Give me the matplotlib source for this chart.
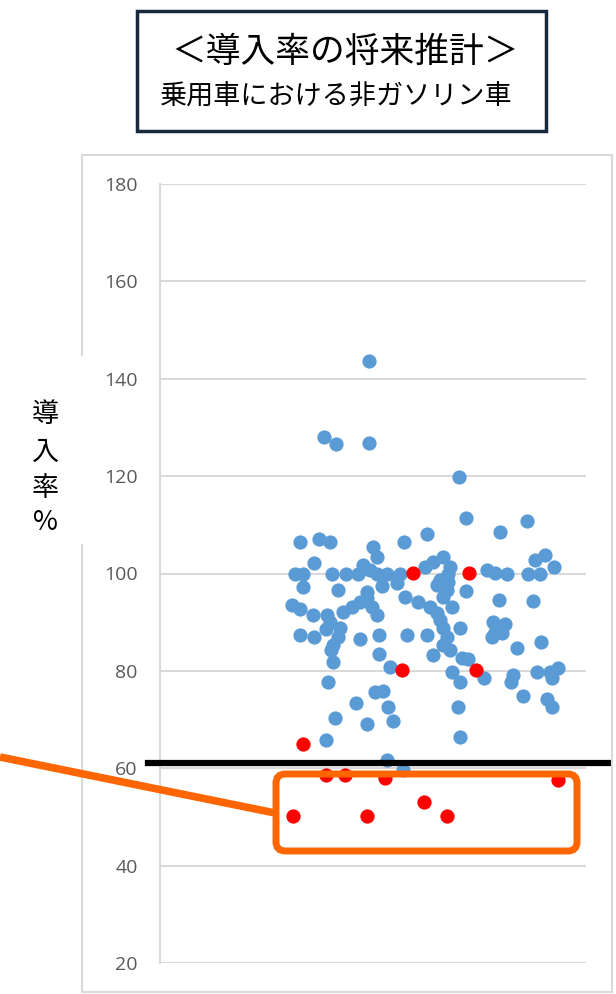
import matplotlib
matplotlib.use("Agg")
import matplotlib.pyplot as plt
from matplotlib.patches import FancyBboxPatch, Rectangle
from matplotlib.lines import Line2D
from matplotlib.transforms import blended_transform_factory

plt.rcParams['font.family'] = ['Noto Sans CJK JP', 'DejaVu Sans']

# ---- data (x = jitter position, y = 導入率 %) ----
blue_x = [209, 164, 176, 209, 299, 306, 367, 340, 267, 140, 159, 170, 244, 213, 217,
          203, 154, 283, 273, 385, 375, 394, 265, 290,
          135, 143, 172, 186, 198, 210, 217, 227, 240, 288, 327, 335, 347, 368, 380,
          143, 178, 207, 222, 237, 245, 280, 288, 277, 283, 287, 306, 339, 373,
          132, 140, 153, 167, 170, 166, 183, 192, 200, 207, 212, 217, 258, 270, 277,
          280, 283, 287, 283, 300, 333, 345, 335, 342, 332, 140, 154, 180, 178, 173,
          171, 173, 200, 219, 247, 267, 219, 273, 290, 302, 308, 292, 300, 324, 357,
          381, 353, 351, 377, 390, 398, 392, 363, 387, 392, 298, 230, 168, 215, 223,
          196, 228, 233, 175, 207, 166, 300, 227, 243, 292]
blue_y = [143.6, 128.0, 126.6, 126.8, 119.8, 111.4, 110.8, 108.5, 108.1, 106.4, 107.1,
          106.4, 106.4, 105.4, 103.4, 101.7, 102.1, 103.4, 102.3, 103.8, 102.8, 101.3,
          101.3, 101.3,
          99.9, 99.9, 99.9, 99.9, 99.9, 100.7, 99.9, 99.9, 99.9, 99.9, 100.7, 100.1,
          99.9, 99.9, 99.9,
          97.2, 96.6, 96.2, 97.4, 98.0, 95.2, 98.6, 98.2, 97.6, 95.2, 96.6, 96.4,
          94.5, 94.3,
          93.5, 92.7, 91.5, 91.5, 90.0, 88.6, 92.1, 93.1, 94.1, 94.9, 93.1, 91.5,
          94.1, 93.1, 91.9, 90.4, 88.8, 86.9, 85.3, 88.8, 90.0, 89.6, 88.0, 87.8,
          86.9, 87.4, 86.9, 88.8, 86.9, 85.3, 84.3, 81.8, 86.5, 87.4, 87.4, 87.4,
          83.4, 83.2, 84.3, 82.6, 82.4, 79.8, 77.7, 78.5, 84.7, 85.9, 79.1, 77.7,
          79.8, 79.8, 80.6, 78.5, 74.8, 74.2, 72.6, 72.6, 80.8, 77.7, 75.6, 75.9,
          73.4, 72.6, 69.7, 70.3, 69.1, 65.8, 66.4, 61.7, 59.6, 93.1]
red_x = [253, 309, 242, 316, 143, 166, 185, 225, 398, 264, 133, 207, 287]
red_y = [100.1, 100.1, 80.2, 80.2, 65.0, 58.6, 58.6, 58.0, 57.6, 53.1, 50.2, 50.2, 50.2]

threshold = 61
y_ticks = [20, 40, 60, 80, 100, 120, 140, 160, 180]

title1 = "＜導入率の将来推計＞"
title2 = "乗用車における非ガソリン車"
ylabel_chars = ["導", "入", "率", "%"]

W, H = 616, 994
fig = plt.figure(figsize=(W / 100, H / 100), dpi=100)


def fx(x):
    return x / W


def fy(y):
    return 1 - y / H


# outer chart frame (light grey)
grey = "#D9D9D9"
fig.add_artist(Line2D([fx(82), fx(612)], [fy(155), fy(155)], color=grey, lw=1.5))
fig.add_artist(Line2D([fx(612), fx(612)], [fy(155), fy(992)], color=grey, lw=1.5))
fig.add_artist(Line2D([fx(82), fx(612)], [fy(992), fy(992)], color=grey, lw=1.5))
fig.add_artist(Line2D([fx(82), fx(82)], [fy(155), fy(355)], color=grey, lw=1.5))
fig.add_artist(Line2D([fx(82), fx(82)], [fy(545), fy(992)], color=grey, lw=1.5))

ax = fig.add_axes([fx(160), fy(963), (586 - 160) / W, (963 - 184) / H])
ax.set_xlim(0, 426)
ax.set_ylim(20, 180)
ax.set_yticks(y_ticks)
ax.set_yticklabels([str(t) for t in y_ticks], fontsize=14, color="#595959",
                   family=["Open Sans", "DejaVu Sans"])
ax.tick_params(axis="y", length=0, pad=16)
ax.set_xticks([])
for s in ["top", "right", "bottom"]:
    ax.spines[s].set_visible(False)
ax.spines["left"].set_color(grey)
ax.spines["left"].set_linewidth(1.5)
ax.grid(axis="y", color=grey, lw=1.5)
ax.set_axisbelow(True)
ax.patch.set_alpha(0)

ax.scatter(blue_x, blue_y, s=105, color="#5B9BD5", linewidths=0, zorder=3)
ax.scatter(red_x, red_y, s=105, color="#FF0000", linewidths=0, zorder=4)

# threshold line (extends beyond the plot)
bt = blended_transform_factory(fig.transFigure, ax.transData)
ax.add_line(Line2D([fx(148), fx(609)], [threshold, threshold], transform=bt,
                   color="black", lw=4.5, clip_on=False, zorder=5))

# orange highlight box and pointer line
box = FancyBboxPatch((fx(276), fy(851)), fx(577) - fx(276), fy(774) - fy(851),
                     boxstyle="round,pad=0,rounding_size=0.015",
                     transform=fig.transFigure, fill=False, edgecolor="#FF6600",
                     lw=5, zorder=6, mutation_aspect=W / H)
fig.add_artist(box)
fig.add_artist(Line2D([fx(0), fx(275)], [fy(757), fy(813)], color="#FF6600",
                      lw=5.5, solid_capstyle="butt", zorder=6))

# y label: stacked vertical text
ys = [415, 452, 489, 522]
for ch, yy in zip(ylabel_chars, ys):
    fig.text(fx(45), fy(yy), ch, ha="center", va="center", fontsize=19.5,
             color="black", family=["Noto Sans CJK JP", "DejaVu Sans"])

# title box
fig.add_artist(Rectangle((fx(137), fy(131)), fx(546) - fx(137), fy(11) - fy(131),
                         transform=fig.transFigure, fill=False,
                         edgecolor="#17293A", lw=2.5))
fig.text(fx(345), fy(52), title1, ha="center", va="center", fontsize=25, color="black")
fig.text(fx(336), fy(97), title2, ha="center", va="center", fontsize=19.5, color="black")

fig.savefig("out.png", dpi=100)
